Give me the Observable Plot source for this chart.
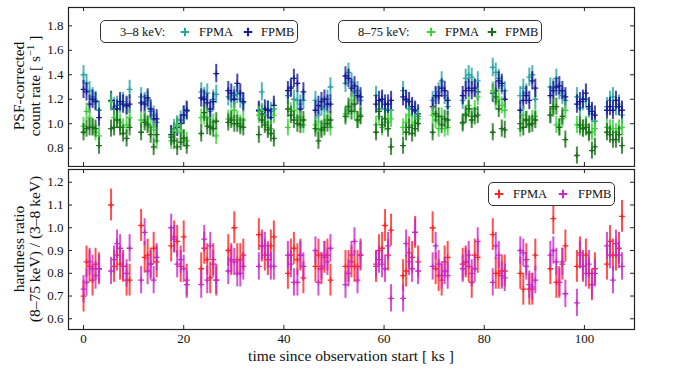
<!DOCTYPE html>
<html><head><meta charset="utf-8">
<script src="https://cdn.jsdelivr.net/npm/d3@7"></script>
<script src="https://cdn.jsdelivr.net/npm/@observablehq/plot@0.6"></script>
<style>
body{margin:0;background:#fff;}
#wrap{position:relative;width:682px;height:371px;font-family:"Liberation Serif",serif;color:#111;}
.lg{position:absolute;border:1px solid #333;border-radius:5px;background:#fff;box-sizing:border-box;}
.lg span{position:absolute;top:50%;transform:translateY(-50%);font-size:12.5px;white-space:nowrap;}
.lg svg{position:absolute;top:50%;transform:translate(-50%,-50%);}
.yl{position:absolute;font-size:15.5px;white-space:nowrap;text-align:center;line-height:16px;transform:translate(-50%,-50%) rotate(-90deg);}
</style>
</head><body>
<div id="wrap">
  <div id="top" style="position:absolute;left:0;top:0"></div>
  <div id="bot" style="position:absolute;left:0;top:167px"></div>
</div>
<script>
// ---- data ----
const time = [
0.0,0.6,1.2,1.8,2.4,3.1,
5.5,6.1,6.7,7.3,7.9,8.6,9.2,
11.5,12.2,12.8,13.4,14.0,14.6,
17.5,18.1,18.7,19.4,20.0,20.6,
23.5,24.1,24.7,25.3,25.9,26.5,
28.9,29.5,30.1,30.7,31.3,31.9,
35.0,35.6,36.2,36.8,37.4,38.0,
40.8,41.4,42.0,42.7,43.3,43.9,
46.3,46.9,47.5,48.1,48.7,49.3,
52.3,52.9,53.5,54.1,54.7,55.3,
58.4,59.0,59.6,60.2,60.8,61.4,
63.8,64.4,65.0,65.6,66.2,66.8,
69.7,70.3,70.9,71.5,72.1,72.7,
75.7,76.3,76.9,77.5,78.1,78.7,
81.7,82.3,82.9,83.5,84.1,
87.2,87.8,88.4,89.0,89.6,90.2,
93.2,93.8,94.4,95.0,95.6,96.2,
98.5,99.1,99.7,100.3,100.9,101.5,102.1,
104.5,105.1,105.7,106.3,106.9,107.5];

const softA = [
1.40,1.33,1.27,1.22,1.19,1.11,
1.18,1.14,1.15,1.16,1.18,1.14,1.28,
1.22,1.18,1.19,1.10,1.07,1.01,
0.91,0.96,0.99,1.03,1.07,1.10,
1.26,1.22,1.25,1.10,1.20,1.24,
1.22,1.20,1.23,1.24,1.20,1.17,
1.10,1.26,1.07,1.11,1.10,1.12,
1.23,1.30,1.20,1.19,1.16,1.19,
1.19,1.07,1.14,1.12,1.20,1.30,
1.33,1.42,1.34,1.26,1.27,1.19,
1.23,1.12,1.18,1.12,1.11,1.11,
1.27,1.19,1.12,1.12,1.10,1.06,
1.19,1.22,1.26,1.35,1.23,1.14,
1.19,1.37,1.40,1.38,1.29,1.35,
1.46,1.42,1.37,1.31,1.27,
1.23,1.29,1.25,1.38,1.40,1.20,
1.30,1.29,1.37,1.27,1.23,1.19,
1.22,1.13,1.18,1.20,1.12,1.08,1.02,
1.14,1.19,1.22,1.14,1.16,1.07];

const softB = [
1.28,1.26,1.16,1.20,1.18,1.05,
1.19,1.12,1.12,1.18,1.16,1.15,1.16,
1.17,1.16,1.21,1.12,1.04,1.04,
0.91,0.93,0.97,1.00,1.07,1.11,
1.21,1.20,1.17,1.12,1.18,1.41,
1.27,1.25,1.20,1.33,1.25,1.18,
1.11,1.08,1.12,1.11,1.05,1.15,
1.27,1.29,1.37,1.33,1.12,1.26,
1.11,1.15,1.18,1.20,1.16,1.16,
1.39,1.37,1.29,1.31,1.23,1.22,
1.16,1.19,1.20,1.16,1.16,1.19,
1.22,1.20,1.18,1.14,1.11,1.08,
1.14,1.23,1.23,1.29,1.27,1.19,
1.23,1.27,1.29,1.27,1.29,1.26,
1.25,1.27,1.35,1.33,1.20,
1.11,1.19,1.23,1.19,1.35,1.29,
1.23,1.27,1.30,1.31,1.27,1.22,
1.16,1.18,1.20,1.25,1.14,1.10,1.07,
1.11,1.14,1.11,1.19,1.14,1.11];

const hardA = [
0.98,1.10,1.05,0.97,0.93,0.90,
1.18,1.05,1.03,1.01,0.97,0.99,1.05,
1.03,1.03,1.00,0.97,0.95,0.86,
0.86,0.93,0.99,0.93,0.88,0.86,
1.05,1.06,1.05,0.98,1.01,0.90,
1.04,1.05,1.11,1.03,1.00,1.03,
1.07,1.10,1.01,0.97,0.96,1.07,
0.97,1.10,1.11,1.05,1.03,0.99,
0.99,0.95,0.96,1.00,1.03,0.97,
1.08,1.11,1.19,1.10,1.03,1.07,
0.99,1.06,0.97,1.01,1.01,1.04,
0.97,1.01,1.07,0.99,1.01,1.04,
1.07,1.03,0.96,1.06,0.96,0.97,
1.00,1.08,1.15,1.06,1.12,1.22,
1.27,1.18,1.20,1.15,1.11,
0.96,1.07,1.03,1.00,1.04,1.06,
1.07,1.12,0.99,0.97,1.04,1.11,
0.99,0.97,0.96,0.99,0.92,0.93,0.96,
0.97,0.96,0.96,0.93,0.96,0.97];

const hardB = [
0.93,0.96,0.97,0.97,0.96,0.82,
0.96,0.97,1.03,0.97,0.92,0.88,0.97,
0.93,1.01,0.99,0.91,0.81,0.91,
0.89,0.86,0.81,0.85,0.88,0.82,
0.92,1.09,0.98,0.97,0.96,1.02,
1.01,1.03,1.00,1.00,0.98,0.97,
0.91,1.03,0.99,0.95,0.92,0.88,
1.12,1.07,1.03,1.00,0.99,1.03,
0.96,0.86,0.95,0.97,1.00,1.03,
1.06,1.14,1.10,1.16,1.03,1.06,
0.93,1.10,0.99,1.04,0.96,0.81,
0.82,0.93,0.97,0.92,0.96,1.00,
0.93,1.08,1.06,0.99,1.04,1.03,
1.01,1.07,1.12,1.03,1.06,1.07,
0.93,1.22,1.12,0.96,0.95,
1.00,0.97,1.03,0.99,1.00,1.03,
1.07,1.14,1.14,0.97,1.06,0.87,
0.74,0.99,0.96,0.97,0.93,0.78,0.81,
0.93,0.91,0.87,0.87,0.91,0.82];

const hrA = [
0.70,0.85,0.83,0.77,0.84,0.82,
1.10,0.83,0.88,0.84,0.83,0.77,0.77,
1.01,0.87,0.88,0.84,0.91,0.85,
0.92,0.96,0.94,0.83,0.96,0.77,
0.82,0.91,0.86,0.78,0.86,0.77,
0.90,0.86,1.00,0.86,0.86,0.88,
0.97,0.92,0.88,0.86,0.92,0.96,
0.80,0.88,0.91,0.86,0.88,0.78,
0.83,0.88,0.82,0.87,0.88,0.77,
0.83,0.83,0.85,0.83,0.83,0.88,
0.83,0.90,0.91,1.01,0.88,0.99,
0.79,0.81,0.89,0.87,0.98,0.85,
1.00,0.82,0.79,0.77,0.85,0.87,
0.84,0.85,0.83,0.76,0.88,0.87,
0.97,0.80,0.80,0.81,0.81,
0.80,0.73,0.86,0.73,0.73,0.88,
0.82,1.04,0.76,0.76,0.84,0.92,
0.83,0.89,0.83,0.88,0.80,0.75,0.82,
0.84,0.94,0.88,0.88,0.91,1.05];

const hrB = [
0.73,0.76,0.85,0.82,0.79,0.82,
0.81,0.86,0.93,0.91,0.83,0.80,0.91,
0.77,0.98,0.81,0.84,0.77,0.87,
1.00,0.95,0.84,0.86,0.82,0.75,
0.75,0.95,0.77,0.92,0.84,0.77,
0.81,0.86,0.85,0.80,0.80,0.83,
0.83,0.92,0.92,0.88,0.83,0.83,
0.88,0.84,0.76,0.76,0.88,0.83,
0.90,0.76,0.83,0.88,0.85,0.91,
0.75,0.80,0.88,0.94,0.77,0.88,
0.84,0.86,0.84,0.82,0.92,0.69,
0.69,0.93,0.85,0.82,0.98,0.81,
0.83,0.92,0.84,0.79,0.81,0.79,
0.82,0.85,0.88,0.80,0.82,0.94,
0.76,0.92,0.88,0.79,0.78,
0.90,0.89,0.83,0.75,0.74,0.77,
0.88,0.90,0.85,0.76,0.85,0.71,
0.67,0.88,0.83,0.80,0.84,0.75,0.80,
0.92,0.88,0.77,0.93,0.88,0.83];

// 1-sigma error bar half-lengths
const errSoft = 0.075, errHard = 0.07, errHrA = 0.07, errHrB = 0.06;

const xTicks = [0, 20, 40, 60, 80, 100];
const yTicksTop = [0.8, 1.0, 1.2, 1.4, 1.6, 1.8];
const yTicksBot = [0.6, 0.7, 0.8, 0.9, 1.0, 1.1, 1.2];

const colors = {softA:"#2aa3a3", softB:"#1a1a96", hardA:"#3fd03f", hardB:"#1b6e1b", hrA:"#ff2424", hrB:"#c828c8"};

// ---- layout ----
const W = 682, ML = 68, MR = 48;
const PW = W - ML - MR;
const FONT = "Liberation Serif, serif";
const TICK = 4;

function series(vals, err){
  return time.map((t,i)=>({t, v: vals[i], lo: vals[i]-err, hi: vals[i]+err}));
}
function errMarks(data, color){
  return [
    Plot.ruleX(data, {x:"t", y1:"lo", y2:"hi", stroke:color, strokeWidth:2, strokeOpacity:0.8}),
    Plot.dot(data, {x:"t", y:"v", symbol:"plus", r:2, stroke:color, strokeWidth:1.3})
  ];
}
function frameTicks(yTicks, ph){
  return [
    Plot.ruleX(xTicks, {x:d=>d, insetTop: ph-TICK, stroke:"#222"}),
    Plot.ruleX(xTicks, {x:d=>d, insetBottom: ph-TICK, stroke:"#222"}),
    Plot.ruleY(yTicks, {y:d=>d, insetRight: PW-TICK, stroke:"#222"}),
    Plot.ruleY(yTicks, {y:d=>d, insetLeft: PW-TICK, stroke:"#222"}),
    Plot.axisY(yTicks, {tickSize:0, tickPadding:5, tickFormat:d3.format(".1f"), fontSize:13, label:null})
  ];
}

// top panel
const topH = 167, topMT = 7, topMB = 1;
const topPlot = Plot.plot({
  width: W, height: topH, marginTop: topMT, marginBottom: topMB, marginLeft: ML, marginRight: MR,
  style: {fontFamily: FONT, fontSize: "13px", color:"#111", background:"transparent"},
  x: {domain: [-3, 110], axis: null},
  y: {domain: [0.65, 1.95], axis: null},
  marks: [
    ...frameTicks(yTicksTop, topH-topMT-topMB),
    ...errMarks(series(softA, errSoft), colors.softA),
    ...errMarks(series(softB, errSoft), colors.softB),
    ...errMarks(series(hardA, errHard), colors.hardA),
    ...errMarks(series(hardB, errHard), colors.hardB),
    Plot.frame({stroke:"#222", strokeWidth:1.2})
  ]
});
document.getElementById("top").appendChild(topPlot);

// bottom panel
const botH = 204, botMT = 2, botMB = 42;
const botPlot = Plot.plot({
  width: W, height: botH, marginTop: botMT, marginBottom: botMB, marginLeft: ML, marginRight: MR,
  style: {fontFamily: FONT, fontSize: "13px", color:"#111", background:"transparent"},
  x: {domain: [-3, 110], axis: null},
  y: {domain: [0.553, 1.256], axis: null},
  marks: [
    ...frameTicks(yTicksBot, botH-botMT-botMB),
    Plot.axisX(xTicks, {tickSize:0, tickPadding:4, fontSize:13, label:null}),
    ...errMarks(series(hrA, errHrA), colors.hrA),
    ...errMarks(series(hrB, errHrB), colors.hrB),
    Plot.frame({stroke:"#222", strokeWidth:1.2})
  ]
});
document.getElementById("bot").appendChild(botPlot);

// ---- text: labels and legends ----
const wrap = document.getElementById("wrap");
function plusSvg(color, left){
  return `<svg width="9" height="9" style="left:${left}px"><line x1="4.5" y1="0" x2="4.5" y2="9" stroke="${color}" stroke-width="2"/><line x1="0" y1="4.5" x2="9" y2="4.5" stroke="${color}" stroke-width="2"/></svg>`;
}
function legend(box, items){
  const d = document.createElement("div");
  d.className = "lg";
  Object.assign(d.style, {left:box[0]+"px", top:box[1]+"px", width:box[2]+"px", height:box[3]+"px"});
  d.innerHTML = items.map(it => it.plus ? plusSvg(it.plus, it.x) : `<span style="left:${it.x}px">${it.text}</span>`).join("");
  wrap.appendChild(d);
}
legend([100,20,198,23], [
  {text:"3–8 keV:", x:19}, {plus:colors.softA, x:84}, {text:"FPMA", x:98},
  {plus:colors.softB, x:147}, {text:"FPMB", x:160}
]);
legend([338,20,204,23], [
  {text:"8–75 keV:", x:19}, {plus:colors.hardA, x:92}, {text:"FPMA", x:106},
  {plus:colors.hardB, x:153}, {text:"FPMB", x:166}
]);
legend([488,182,127,24], [
  {plus:colors.hrA, x:10}, {text:"FPMA", x:24},
  {plus:colors.hrB, x:74}, {text:"FPMB", x:89}
]);

function ylabel(html, cx, cy){
  const d = document.createElement("div");
  d.className = "yl";
  d.style.left = cx+"px"; d.style.top = cy+"px";
  d.innerHTML = html;
  wrap.appendChild(d);
}
ylabel("PSF-corrected<br>count rate [ s<sup style='font-size:10.5px;line-height:0'>−1</sup> ]", 27, 86);
ylabel("hardness ratio<br>(8–75 keV) / (3–8 keV)", 27, 249);

// x label, centred under the axes
const xl = document.createElement("div");
xl.textContent = "time since observation start [ ks ]";
Object.assign(xl.style, {position:"absolute", top:"348px", fontSize:"15.5px", lineHeight:"15px", whiteSpace:"nowrap"});
wrap.appendChild(xl);
const wpx = xl.getBoundingClientRect().width;
xl.style.left = (ML + PW/2 - wpx/2) + "px";
</script>
</body></html>
